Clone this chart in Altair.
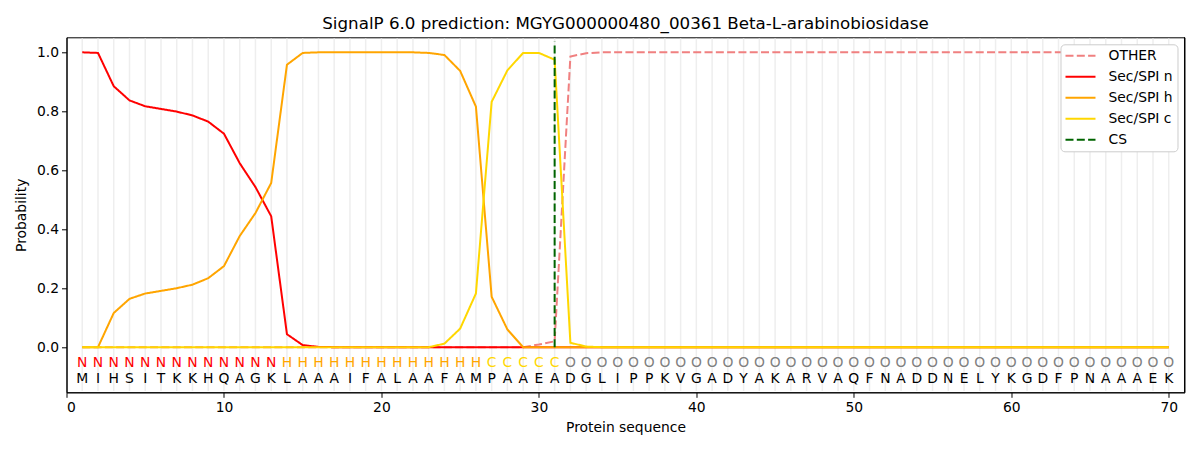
import altair as alt
import pandas as pd

sequence = list("MIHSITKKHQAGKLAAAIFALAAFAMPAAEADGLIPPKVGADYAKARVAQFNADDNELYKGDFPNAAAEK")
labels = ["N"] * 13 + ["H"] * 13 + ["C"] * 5 + ["O"] * 39
positions = list(range(1, 71))

other = [0.0] * 29 + [0.009, 0.02, 0.986, 0.997] + [1.0] * 37
sec_n = [1.0, 0.998, 0.885, 0.837, 0.817, 0.808, 0.799, 0.786, 0.765, 0.724,
         0.624, 0.543, 0.444, 0.044, 0.007, 0.001] + [0.0] * 54
sec_h = [0.0, 0.0, 0.116, 0.164, 0.182, 0.191, 0.2, 0.212, 0.234, 0.275,
         0.377, 0.455, 0.557, 0.958, 0.998, 1.0, 1.0, 1.0, 1.0, 1.0,
         1.0, 1.0, 0.998, 0.991, 0.937, 0.816, 0.171, 0.06] + [0.0] * 42
sec_c = [0.0] * 23 + [0.012, 0.063, 0.182, 0.832, 0.939, 0.998, 0.998, 0.975,
                      0.015, 0.002] + [0.0] * 37
cs_position = 31

series_names = ["OTHER", "Sec/SPI n", "Sec/SPI h", "Sec/SPI c", "CS"]
series_colors = ["#F08080", "#FF0000", "#FFA500", "#FFD700", "#006400"]
series_dash = [[8, 3.3], [1, 0], [1, 0], [1, 0], [8, 3.3]]

rows = []
for name, vals in zip(series_names[:4], [other, sec_n, sec_h, sec_c]):
    for p, v in zip(positions, vals):
        rows.append({"pos": p, "prob": v, "series": name})
lines_df = pd.DataFrame(rows)

label_color_map = {"N": "#FF0000", "H": "#FFA500", "C": "#FFD700", "O": "#808080"}
letters_df = pd.DataFrame({
    "pos": positions,
    "aa": sequence,
    "lab": labels,
    "labcolor": [label_color_map[l] for l in labels],
})
cs_df = pd.DataFrame({"pos": [cs_position], "series": ["CS"]})
grid_df = pd.DataFrame({"pos": positions})

FONT = "DejaVu Sans"
X_MIN, X_MAX = 0, 71
Y_MIN, Y_MAX = -0.153, 1.051
xscale = alt.Scale(domain=[X_MIN, X_MAX], nice=False, zero=False)
yscale = alt.Scale(domain=[Y_MIN, Y_MAX], nice=False, zero=False)
color_scale = alt.Scale(domain=series_names, range=series_colors)
dash_scale = alt.Scale(domain=series_names, range=series_dash)

xaxis = alt.Axis(values=list(range(0, 71, 10)), title="Protein sequence", grid=False,
                 labelFontSize=13.9, titleFontSize=13.9, titleFontWeight="normal",
                 labelFont=FONT, titleFont=FONT, domainColor="black", tickColor="black",
                 labelColor="black", titleColor="black", tickSize=5, labelPadding=3,
                 titlePadding=6)
yaxis = alt.Axis(values=[0, 0.2, 0.4, 0.6, 0.8, 1.0], format=".1f", title="Probability",
                 grid=False, labelFontSize=13.9, titleFontSize=13.9, titleFontWeight="normal",
                 labelFont=FONT, titleFont=FONT, domainColor="black", tickColor="black",
                 labelColor="black", titleColor="black", tickSize=5, labelPadding=3,
                 titlePadding=8)

grid = alt.Chart(grid_df).mark_rule(color="#EEEEEE", strokeWidth=1.5).encode(
    x=alt.X("pos:Q", scale=xscale, axis=xaxis),
    y=alt.datum(Y_MIN + 0.004, scale=yscale),
    y2=alt.datum(Y_MAX - 0.004),
)

right_spine = alt.Chart(pd.DataFrame({"pos": [X_MAX]})).mark_rule(
    color="black", strokeWidth=1).encode(
    x=alt.X("pos:Q", scale=xscale),
    y=alt.datum(Y_MIN, scale=yscale),
    y2=alt.datum(Y_MAX),
)

legend = alt.Legend(title=None, orient="top-right", offset=7, symbolType="stroke",
                    symbolSize=900, symbolStrokeWidth=2, labelFontSize=13.9, labelFont=FONT,
                    labelColor="black", strokeColor="#CCCCCC", fillColor="white",
                    cornerRadius=4, padding=4, rowPadding=6, clipHeight=15, labelOffset=12)

lines = alt.Chart(lines_df).mark_line(strokeWidth=2).encode(
    x=alt.X("pos:Q", scale=xscale, axis=xaxis),
    y=alt.Y("prob:Q", scale=yscale, axis=yaxis),
    color=alt.Color("series:N", scale=color_scale, legend=legend, sort=series_names),
    strokeDash=alt.StrokeDash("series:N", scale=dash_scale, legend=legend, sort=series_names),
    detail="series:N",
)

cs_rule = alt.Chart(cs_df).mark_rule(strokeWidth=2).encode(
    x=alt.X("pos:Q", scale=xscale),
    y=alt.datum(0, scale=yscale),
    y2=alt.datum(1.036),
    color=alt.Color("series:N", scale=color_scale, legend=legend),
    strokeDash=alt.StrokeDash("series:N", scale=dash_scale, legend=legend),
)

lab_text = alt.Chart(letters_df).mark_text(fontSize=13.9, font=FONT, baseline="middle").encode(
    x=alt.X("pos:Q", scale=xscale),
    y=alt.datum(-0.055, scale=yscale),
    text="lab:N",
    color=alt.Color("labcolor:N", scale=None),
)
aa_text = alt.Chart(letters_df).mark_text(fontSize=13.9, font=FONT, baseline="middle",
                                          color="black").encode(
    x=alt.X("pos:Q", scale=xscale),
    y=alt.datum(-0.107, scale=yscale),
    text="aa:N",
)

chart = alt.layer(grid, right_spine, lines, cs_rule, lab_text, aa_text).properties(
    width=1118,
    height=355,
    title=alt.Title("SignalP 6.0 prediction: MGYG000000480_00361 Beta-L-arabinobiosidase",
                    fontSize=16.7, font=FONT, fontWeight="normal", color="black",
                    anchor="middle", offset=4),
    autosize=alt.AutoSizeParams(type="none"),
    padding={"left": 58.5, "top": 29.3, "right": 5, "bottom": 44},
).configure_view(stroke="black", strokeWidth=1).configure_axis(domainWidth=1, tickWidth=1)

chart.save("out.html", embed_options={"renderer": "svg", "actions": False})
